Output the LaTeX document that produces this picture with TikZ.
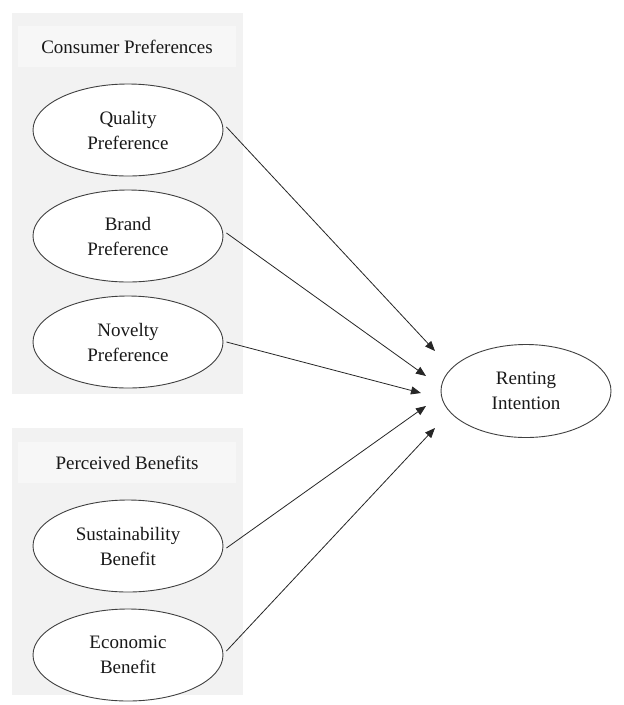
\documentclass[tikz,border=0pt]{standalone}
\usepackage{fontspec}
\setmainfont{Liberation Serif}
\usetikzlibrary{shapes.geometric,arrows.meta}
\begin{document}
\begin{tikzpicture}[x=1pt,y=-1pt,
  panel/.style={fill=panelgrey,draw=none},
  titlebox/.style={fill=titlegrey,draw=none,minimum width=218pt,minimum height=41pt,text=black!90,font=\fontsize{19}{24}\selectfont},
  construct/.style={ellipse,draw=black!75,line width=0.9pt,fill=white,minimum width=190pt,minimum height=92pt,inner sep=0pt,align=center,text=black!90,font=\fontsize{19}{25}\selectfont},
  link/.style={draw=black!85,line width=0.8pt,-{Triangle[length=10pt,width=8pt]}}]
\definecolor{panelgrey}{HTML}{F2F2F2}
\definecolor{titlegrey}{HTML}{F7F7F7}
\useasboundingbox (0,0) rectangle (624,705);
\fill[white] (0,0) rectangle (624,705);
\fill[panelgrey] (12,13) rectangle (243,394);
\fill[panelgrey] (12,428) rectangle (243,695);
\node[titlebox] (t1) at (127,46.5) {Consumer Preferences};
\node[titlebox] (t2) at (127,462.5) {Perceived Benefits};
\node[construct] (q) at (128,130) {Quality\\Preference};
\node[construct] (b) at (128,236) {Brand\\Preference};
\node[construct] (n) at (128,342) {Novelty\\Preference};
\node[construct] (s) at (128,546) {Sustainability\\Benefit};
\node[construct] (e) at (128,655) {Economic\\Benefit};
\node[construct,minimum width=170pt,minimum height=93pt] (r) at (526,391) {Renting\\Intention};
\coordinate (r1) at (435,351);
\coordinate (r2) at (426,376);
\coordinate (r3) at (421,393);
\coordinate (r4) at (426,406);
\coordinate (r5) at (435,428);
\draw[link] ([xshift=3pt]q.east) ++(0,-3) -- (r1);
\draw[link] ([xshift=3pt]b.east) ++(0,-3) -- (r2);
\draw[link] ([xshift=3pt]n.east) -- (r3);
\draw[link] ([xshift=3pt]s.east) ++(0,2) -- (r4);
\draw[link] ([xshift=3pt]e.east) ++(0,-4) -- (r5);
\end{tikzpicture}
\end{document}
